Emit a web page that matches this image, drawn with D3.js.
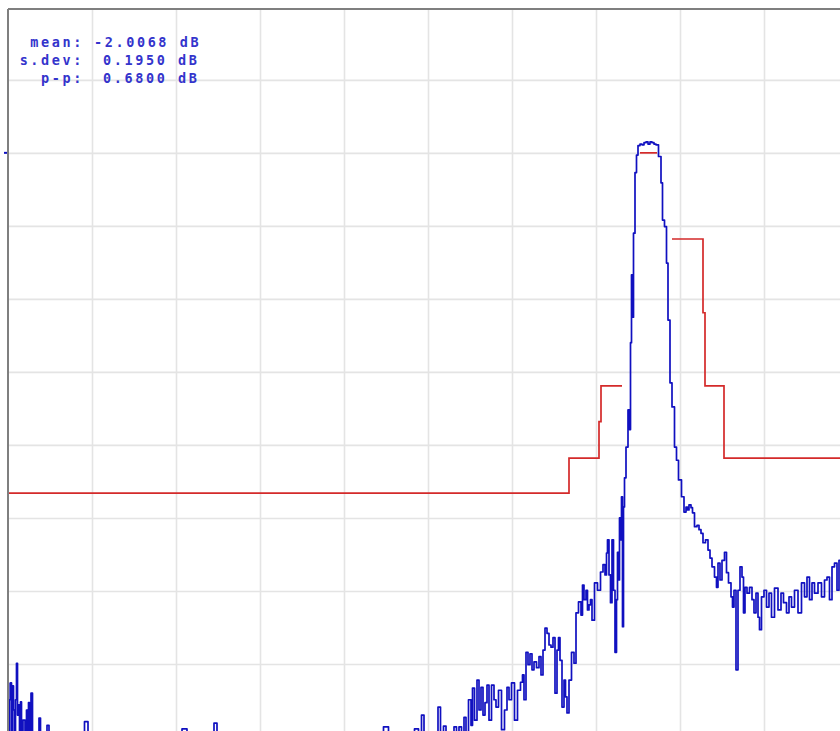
<!DOCTYPE html>
<html>
<head>
<meta charset="utf-8">
<script src="https://cdn.jsdelivr.net/npm/d3@7"></script>
<style>
  body { margin: 0; background: #fff; overflow: hidden; }
  svg { display: block; }
  .grid line { stroke: #e4e4e4; stroke-width: 1.6px; }
  .grid path { display: none; }
</style>
</head>
<body>
<div id="chart"></div>
<script>
// sweep point (0..840) and level in dB
var traceIdx = [0, 1, 2, 3, 4, 5, 6, 7, 8, 9, 10, 11, 12, 13, 14, 16, 18, 19, 20, 21, 22, 24, 25, 27, 30, 32, 33, 36, 38, 40,
  42, 46, 50, 54, 58, 62, 66, 70, 74, 79, 81, 86, 92, 98, 104, 110, 116, 122, 128, 134, 140, 146, 152, 158, 164, 170, 178, 180, 186, 192,
  198, 204, 208, 210, 216, 222, 228, 234, 240, 246, 252, 258, 264, 270, 276, 282, 288, 294, 300, 306, 312, 318, 324, 330, 336, 342, 348, 354, 360, 366,
  372, 379, 382, 388, 394, 400, 404, 409, 412, 415, 417, 422, 426, 429, 431, 434, 437, 439, 442, 445, 447, 450, 452, 455, 457, 459, 462, 464, 465, 468,
  470, 472, 474, 476, 478, 480, 482, 485, 487, 489, 492, 495, 498, 500, 502, 505, 508, 511, 514, 515, 517, 519, 521, 523, 525, 527, 530, 532, 534, 536,
  538, 540, 542, 544, 546, 548, 550, 551, 553, 555, 557, 558, 560, 562, 565, 567, 569, 572, 574, 575, 577, 579, 580, 582, 583, 585, 588, 591, 594, 596,
  598, 599, 600, 602, 603, 605, 606, 608, 609, 610, 611, 612, 613, 614, 615, 616, 617, 619, 621, 622, 623, 624, 625, 626, 628, 629, 631, 633, 635, 637,
  639, 641, 643, 645, 647, 649, 652, 654, 655, 658, 659, 661, 663, 665, 668, 669, 672, 675, 677, 679, 680, 682, 684, 685, 688, 690, 692, 694, 696, 699,
  701, 703, 705, 708, 709, 711, 713, 715, 718, 719, 722, 724, 725, 727, 729, 731, 733, 735, 736, 738, 740, 743, 745, 747, 749, 751, 752, 755, 757, 760,
  762, 765, 768, 772, 774, 777, 780, 782, 785, 788, 792, 795, 798, 800, 803, 805, 808, 812, 815, 818, 820, 823, 825, 828, 830, 832, 837];
var traceDb = [-72.6, -80.4, -74.9, -72.6, -81.1, -73.0, -76.3, -80.4, -74.9, -69.9, -77.0, -75.6, -79.7, -75.2, -81.8, -77.7, -80.4, -76.3, -81.1, -75.3, -83.2, -74.0, -81.8, -83.8, -81.1, -77.4, -81.8, -84.5, -80.4, -78.4,
  -83.2, -85.2, -81.8, -85.9, -83.2, -86.6, -83.8, -85.2, -83.2, -77.9, -84.5, -85.9, -83.2, -86.6, -84.5, -87.3, -83.8, -85.9, -84.5, -87.3, -85.2, -83.8, -86.6, -84.5, -85.9, -83.8, -78.9, -85.2, -87.3, -84.5,
  -85.9, -83.2, -78.1, -84.5, -86.6, -84.5, -85.9, -83.8, -87.3, -84.5, -85.9, -83.2, -85.2, -83.8, -86.6, -84.5, -83.2, -85.9, -83.8, -85.2, -83.2, -85.9, -83.8, -84.5, -82.5, -84.5, -83.2, -85.2, -82.5, -83.8,
  -81.8, -78.6, -83.2, -81.8, -83.8, -81.1, -82.5, -78.9, -81.5, -77.0, -80.4, -81.1, -79.7, -81.8, -75.9, -80.4, -78.5, -81.1, -79.7, -80.4, -78.6, -81.1, -78.6, -80.4, -77.3, -79.7, -74.9, -78.4, -73.3, -77.7,
  -72.2, -76.3, -73.2, -77.0, -75.3, -72.9, -77.7, -72.9, -74.9, -75.9, -73.6, -79.0, -76.3, -73.2, -74.9, -72.6, -77.7, -73.6, -72.5, -71.5, -74.9, -68.4, -70.1, -68.6, -70.8, -69.7, -70.5, -69.0, -71.5, -68.1,
  -65.1, -65.8, -67.4, -67.7, -66.4, -74.0, -68.1, -66.4, -69.5, -75.9, -72.2, -74.5, -76.7, -72.2, -68.4, -69.9, -63.0, -61.5, -63.3, -59.2, -61.2, -59.9, -62.6, -61.9, -61.2, -64.0, -58.9, -59.9, -57.4, -56.4,
  -57.8, -54.8, -53.0, -57.8, -61.6, -53.0, -59.9, -68.4, -61.2, -54.7, -58.5, -50.0, -53.0, -47.1, -64.9, -48.5, -44.5, -40.3, -35.2, -37.9, -26.0, -16.7, -22.5, -11.0, -2.7, -0.3, 1.0, 1.2, 1.1, 1.4,
  1.5, 1.2, 1.5, 1.4, 1.2, 1.1, -0.5, -4.1, -9.2, -10.1, -15.1, -22.9, -31.5, -34.8, -40.3, -42.1, -44.8, -47.1, -49.2, -48.5, -48.9, -48.2, -48.6, -49.3, -51.2, -51.0, -51.6, -52.1, -53.4, -53.0,
  -54.4, -55.5, -56.7, -58.1, -59.5, -56.2, -58.5, -55.8, -54.7, -57.5, -58.9, -60.8, -62.2, -59.9, -70.8, -59.9, -56.7, -58.1, -63.0, -59.5, -60.3, -59.5, -61.2, -63.0, -60.3, -63.6, -65.3, -60.8, -59.9, -62.2,
  -60.3, -63.6, -59.6, -62.6, -60.3, -61.6, -63.0, -60.8, -62.2, -59.9, -63.0, -58.9, -60.8, -58.1, -61.2, -58.9, -60.3, -58.9, -60.8, -58.5, -58.1, -61.2, -56.7, -56.2, -59.9, -55.8, -55.1];

// limit line, in three pieces
var maskLowIdx = [0, 561, 591, 593, 614];
var maskLowDb = [-46.6, -41.8, -36.8, -31.9, -31.9];
var maskTopIdx = [632, 649];
var maskTopDb = [0, 0];
var maskHighIdx = [664, 695, 697, 716, 840];
var maskHighDb = [-11.8, -21.9, -31.9, -41.8, -41.8];

var statLabels = ["mean:", "s.dev:", "p-p:"];
var statValues = ["-2.0068 dB", "0.1950 dB", "0.6800 dB"];

var xTicks = d3.range(84, 841, 84);
var yTicks = d3.range(10, -81, -10);
var refLevel = 0;

var margin = {top: 9, left: 8},
    width = 840,
    height = 728;

var svg = d3.select("#chart")
  .append("svg")
    .attr("width", 840)
    .attr("height", 731)
  .append("g")
    .attr("transform", "translate(" + margin.left + "," + margin.top + ")");

var x = d3.scaleLinear()
  .domain([0, 840])
  .range([0, width]);

var y = d3.scaleLinear()
  .domain([19.7, -80])
  .range([0, height]);

// grid
svg.append("g")
  .attr("class", "grid")
  .call(d3.axisLeft(y)
    .tickValues(yTicks)
    .tickSize(-width)
    .tickFormat(""));

svg.append("g")
  .attr("class", "grid")
  .attr("transform", "translate(0," + height + ")")
  .call(d3.axisBottom(x)
    .tickValues(xTicks)
    .tickSize(-height)
    .tickFormat(""));

svg.append("clipPath")
    .attr("id", "plot")
  .append("rect")
    .attr("x", 0)
    .attr("y", 0)
    .attr("width", width)
    .attr("height", height);

var plot = svg.append("g").attr("clip-path", "url(#plot)");

function zip(xs, ys) {
  return xs.map(function(d, i) { return [d, ys[i]]; });
}

var maskLine = d3.line()
  .x(function(d) { return x(d[0]); })
  .y(function(d) { return y(d[1]); })
  .curve(d3.curveStepAfter);

[zip(maskLowIdx, maskLowDb), zip(maskTopIdx, maskTopDb), zip(maskHighIdx, maskHighDb)].forEach(function(seg) {
  plot.append("path")
    .datum(seg)
    .attr("fill", "none")
    .attr("stroke", "#d42a2a")
    .attr("stroke-width", 1.7)
    .attr("d", maskLine);
});

var traceLine = d3.line()
  .x(function(d) { return x(d[0]); })
  .y(function(d) { return y(d[1]); })
  .curve(d3.curveStep);

plot.append("path")
  .datum(zip(traceIdx, traceDb))
  .attr("fill", "none")
  .attr("stroke", "#1010c0")
  .attr("stroke-width", 1.7)
  .attr("stroke-linejoin", "round")
  .attr("d", traceLine);

// frame
svg.append("line")
  .attr("x1", 0).attr("x2", width)
  .attr("y1", 0).attr("y2", 0)
  .attr("stroke", "#7f7f7f")
  .attr("stroke-width", 2);
svg.append("line")
  .attr("x1", 0).attr("x2", 0)
  .attr("y1", 0).attr("y2", height)
  .attr("stroke", "#7f7f7f")
  .attr("stroke-width", 2);

// reference level marker
svg.append("line")
  .attr("x1", -4).attr("x2", -1)
  .attr("y1", y(refLevel)).attr("y2", y(refLevel))
  .attr("stroke", "#1010c0")
  .attr("stroke-width", 2);

// statistics
var stats = svg.append("g")
  .style("font-family", "'DejaVu Sans Mono', monospace")
  .style("font-size", "13.5px")
  .style("font-weight", "bold")
  .style("letter-spacing", "2.6px")
  .style("fill", "#3434cc");

stats.selectAll("text.lab")
  .data(statLabels)
  .enter()
  .append("text")
    .attr("class", "lab")
    .attr("x", 76)
    .attr("y", function(d, i) { return 38 + i * 18; })
    .attr("text-anchor", "end")
    .text(function(d) { return d; });

stats.selectAll("text.val")
  .data(statValues)
  .enter()
  .append("text")
    .attr("class", "val")
    .attr("x", function(d) { return d.charAt(0) === "-" ? 86 : 95; })
    .attr("y", function(d, i) { return 38 + i * 18; })
    .text(function(d) { return d; });
</script>
</body>
</html>
